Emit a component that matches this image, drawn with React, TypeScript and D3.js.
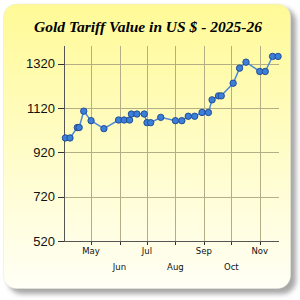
import React from "react";
import * as d3 from "d3";

const dates = [
  "2025-04-03", "2025-04-08", "2025-04-16", "2025-04-18", "2025-04-23", "2025-05-01",
  "2025-05-15", "2025-05-31", "2025-06-06", "2025-06-12", "2025-06-14", "2025-06-20",
  "2025-06-28", "2025-07-01", "2025-07-05", "2025-07-16", "2025-08-01", "2025-08-08",
  "2025-08-15", "2025-08-22", "2025-08-30", "2025-09-06", "2025-09-10", "2025-09-17",
  "2025-09-20", "2025-10-03", "2025-10-10", "2025-10-17", "2025-11-01", "2025-11-07",
  "2025-11-15", "2025-11-21",
];
const values = [
  985, 985, 1032, 1032, 1106, 1063,
  1027, 1066, 1066, 1066, 1093, 1093,
  1093, 1054, 1054, 1078, 1063, 1063,
  1083, 1083, 1100, 1100, 1157, 1175,
  1175, 1232, 1300, 1327, 1285, 1285,
  1353, 1353,
];
const yTicks = [520, 720, 920, 1120, 1320];
const monthTicks = ["2025-05-01", "2025-06-01", "2025-07-01", "2025-08-01", "2025-09-01", "2025-10-01", "2025-11-01"];
const monthLabels = ["May", "Jun", "Jul", "Aug", "Sep", "Oct", "Nov"];
const title = "Gold Tariff Value in US $ - 2025-26";

export default function App() {
  const parse = d3.utcParse("%Y-%m-%d");
  const pts = dates.map((d, i) => ({ t: parse(d) as Date, v: values[i] }));
  const x = d3.scaleUtc().domain([parse("2025-04-02") as Date, parse("2025-11-22") as Date]).range([64.5, 279]);
  const y = d3.scaleLinear().domain([520, 1400]).range([241, 46]);
  const line = d3.line<{ t: Date; v: number }>().x((d) => x(d.t)).y((d) => y(d.v));
  const ticks = monthTicks.map((m) => parse(m) as Date);

  return (
    <svg width={300} height={300} style={{ position: "absolute", left: 0, top: 0 }}>
      <defs>
        <linearGradient id="bg" x1="0" y1="0" x2="0" y2="1">
          <stop offset="0" stopColor="#fffa96" />
          <stop offset="1" stopColor="#fffff6" />
        </linearGradient>
        <filter id="sh" x="-10%" y="-10%" width="130%" height="130%">
          <feGaussianBlur stdDeviation="2.5" />
        </filter>
      </defs>
      <rect x={8} y={8} width={288} height={286} rx={14} fill="#8a8a8a" opacity={0.75} filter="url(#sh)" />
      <rect x={3.5} y={4} width={287} height={284.5} rx={13} fill="url(#bg)" stroke="#e8e8d8" strokeWidth={0.5} />
      <text x={148} y={32} textAnchor="middle" fontFamily="Liberation Serif" fontStyle="italic" fontWeight="bold" fontSize={15.5} fill="#000">
        {title}
      </text>
      {yTicks.map((t) => (
        <g key={t}>
          <line x1={64.5} x2={279} y1={Math.round(y(t)) + 0.5} y2={Math.round(y(t)) + 0.5} stroke="#b3ae86" strokeWidth={1} />
          <line x1={58} x2={64.5} y1={Math.round(y(t)) + 0.5} y2={Math.round(y(t)) + 0.5} stroke="#333" strokeWidth={1} />
          <text x={55} y={y(t) + 4.5} textAnchor="end" fontFamily="Liberation Sans" fontSize={13} fill="#111">{t}</text>
        </g>
      ))}
      {ticks.map((t, i) => (
        <g key={i}>
          <line x1={Math.round(x(t)) + 0.5} x2={Math.round(x(t)) + 0.5} y1={46} y2={241} stroke="#b3ae86" strokeWidth={1} />
          <line x1={Math.round(x(t)) + 0.5} x2={Math.round(x(t)) + 0.5} y1={241} y2={245} stroke="#333" strokeWidth={1} />
          <text x={x(t)} y={i % 2 === 0 ? 254 : 270} textAnchor="middle" fontFamily="DejaVu Sans" fontSize={8.5} fill="#111">{monthLabels[i]}</text>
        </g>
      ))}
      <line x1={64.5} x2={64.5} y1={46} y2={241.5} stroke="#555" strokeWidth={1} />
      <line x1={64} x2={279} y1={241.5} y2={241.5} stroke="#555" strokeWidth={1} />
      <path d={line(pts) || ""} fill="none" stroke="#4f8ad6" strokeWidth={1.5} />
      {pts.map((p, i) => (
        <circle key={i} cx={x(p.t)} cy={y(p.v)} r={3.2} fill="#3b7fd8" stroke="#1d4690" strokeWidth={0.9} />
      ))}
    </svg>
  );
}
